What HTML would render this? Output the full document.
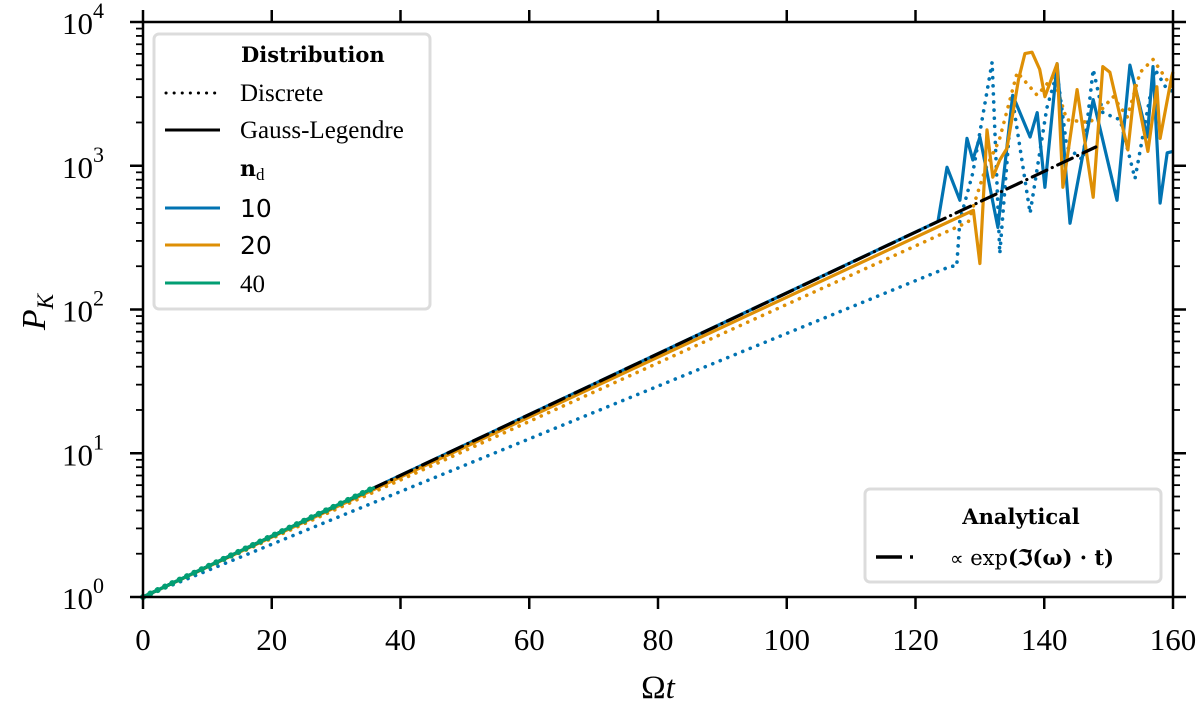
<!DOCTYPE html>
<html><head><meta charset="utf-8"><style>
html,body{margin:0;padding:0;background:#fff;}
svg{display:block;font-family:"Liberation Serif",serif;}
</style></head><body>
<svg id="chart" width="1200" height="708" viewBox="0 0 1200 708">
<g id="marks"></g>
<g id="axes"></g>
</svg>
<script>
// ---- data ----
const xTicks = [0,20,40,60,80,100,120,140,160];
const yDecades = [0,1,2,3,4];
const analyticT = [0,148];
const analyticV = [1,1350];
const green40T = [0,36];
const green40V = [1,5.8];
const blueSolidT = [0,123.5,124.9,126.9,128.0,128.9,130.0,132.8,135.1,137.8,138.9,140.1,142.0,144.0,147.6,151.3,153.3,156.0,156.9,158.0,159.1,160];
const blueSolidV = [1,410,977,575,1549,1096,1585,372,3090,1585,2344,708,5129,398,2884,575,5012,1585,4898,550,1230,1259];
const blueDotT = [0,125.5,126.4,126.9,128.9,131.9,133.1,135.0,137.8,140.4,142.0,143.5,146.0,147.6,149.1,151.8,154.1,157.2,159.1,160];
const blueDotV = [1,200,200,417,891,5248,245,3020,468,2512,4467,1349,1096,4677,2344,2089,813,4677,3388,3300];
const orangeSolidT = [0,129.0,130.0,131.1,132.0,133.1,134.2,136.0,137.0,138.1,139.3,140.1,142.0,142.9,145.1,147.6,149.1,150.2,153.0,154.1,156.1,157.5,158.0,159.8,160];
const orangeSolidV = [1,490,209,1778,832,1096,1318,3981,6026,6166,4677,3020,5129,708,3388,603,4898,4467,1288,3631,1259,3548,1549,4169,4500];
const orangeDotT = [0,128.2,130.8,133.0,135.8,138.9,141.4,143.5,147.1,150.7,152.9,154.9,156.9,159.0,160];
const orangeDotV = [1,407,933,1500,4467,3090,4169,2089,1995,3020,2188,4467,5495,3981,3500];

// ---- axes ----
const X0=143, X1=1173, Y0=597, Y1=22;
const xs = t => X0 + (t/160)*(X1-X0);
const ys = v => Y0 - (Math.log10(v)/4)*(Y0-Y1);
const NS='http://www.w3.org/2000/svg';
function mk(tag, attrs, parent){const e=document.createElementNS(NS,tag);for(const k in attrs)e.setAttribute(k,attrs[k]);parent.appendChild(e);return e;}
const marks=document.getElementById('marks'), axes=document.getElementById('axes');

function series(T,V,color,dash,w,name){
  const d=T.map((t,i)=>(i?'L':'M')+xs(t).toFixed(1)+','+ys(V[i]).toFixed(1)).join('');
  const p=mk('path',{d:d,fill:'none',stroke:color,'stroke-width':w,'stroke-dasharray':dash,'stroke-linecap':dash?'round':'butt','stroke-linejoin':'round'},marks);
  
  
}
const BL='#0173b2', OR='#de8f05', GR='#029e73';
series(blueDotT,blueDotV,BL,'0.1 8',3.6,'line-discrete-10');
series(orangeDotT,orangeDotV,OR,'0.1 8',3.6,'line-discrete-20');
series(blueSolidT,blueSolidV,BL,'',3.2,'line-gauss-10');
series(orangeSolidT,orangeSolidV,OR,'',3.2,'line-gauss-20');
series(analyticT,analyticV,'#000','16 6 0.1 6',3.2,'line-analytical');
series(green40T,green40V,GR,'',3.2,'line-gauss-40');
series(green40T,green40V,GR,'0.1 8',6,'line-discrete-40');

// frame
const fr=mk('rect',{x:X0,y:Y1,width:X1-X0,height:Y0-Y1,fill:'none',stroke:'#000','stroke-width':2.5},axes);


xTicks.forEach(t=>{
  const x=xs(t);
  mk('line',{x1:x,x2:x,y1:Y0,y2:Y0+12,stroke:'#000','stroke-width':2.5},axes);
  mk('line',{x1:x,x2:x,y1:Y1,y2:Y1-12,stroke:'#000','stroke-width':2.5},axes);
  const tx=mk('text',{x:x,y:650,'text-anchor':'middle','font-size':31},axes);
  tx.textContent=t;
  
  
});
yDecades.forEach(k=>{
  const y=ys(Math.pow(10,k));
  mk('line',{x1:X0-13,x2:X0,y1:y,y2:y,stroke:'#000','stroke-width':2.5},axes);
  mk('line',{x1:X1,x2:X1+13,y1:y,y2:y,stroke:'#000','stroke-width':2.5},axes);
  if(k<4){for(let m=2;m<=9;m++){const yy=ys(m*Math.pow(10,k));
    mk('line',{x1:X0-7,x2:X0,y1:yy,y2:yy,stroke:'#000','stroke-width':1.8},axes);
    mk('line',{x1:X1,x2:X1+7,y1:yy,y2:yy,stroke:'#000','stroke-width':1.8},axes);}}
  const tx=mk('text',{x:62,y:y+12,'font-size':31},axes);
  tx.innerHTML='10<tspan dy="-16" font-size="22">'+k+'</tspan>';
  
  
});
const xl=mk('text',{x:658,y:698,'text-anchor':'middle','font-size':33},axes);
xl.innerHTML='Ω<tspan font-style="italic">t</tspan>';


const yl=mk('text',{x:0,y:0,'font-size':34,'font-style':'italic',transform:'translate(45,312) rotate(-90)','text-anchor':'middle'},axes);
yl.innerHTML='P<tspan font-size="23" dy="8">K</tspan>';


</script>
<svg style="position:absolute;left:0;top:0" width="1200" height="708">
 <g font-family="Liberation Serif, serif">
  <rect x="154" y="34" width="276" height="275" rx="5" fill="#fff" stroke="#dcdcdc" stroke-width="3"/>
  <text x="241" y="62" font-size="21" font-weight="bold" font-family="DejaVu Serif, serif">Distribution</text>
  <line x1="166" y1="93" x2="220" y2="93" stroke="#000" stroke-width="3" stroke-dasharray="0.1 8" stroke-linecap="round"/>
  <text x="240" y="101" font-size="25">Discrete</text>
  <line x1="165" y1="130" x2="220" y2="130" stroke="#000" stroke-width="3"/>
  <text x="240" y="138" font-size="25">Gauss-Legendre</text>
  <text x="240" y="176" font-size="22" font-weight="bold" font-family="DejaVu Serif, serif">n<tspan font-size="17" font-weight="normal" font-family="Liberation Serif, serif" dy="4">d</tspan></text>
  <line x1="165" y1="208" x2="220" y2="208" stroke="#0173b2" stroke-width="3"/>
  <text x="240" y="217" font-size="25" font-family="DejaVu Sans, sans-serif">10</text>
  <line x1="165" y1="245" x2="220" y2="245" stroke="#de8f05" stroke-width="3"/>
  <text x="240" y="254" font-size="25" font-family="DejaVu Sans, sans-serif">20</text>
  <line x1="165" y1="283" x2="220" y2="283" stroke="#029e73" stroke-width="3"/>
  <text x="240" y="292" font-size="25">40</text>
 </g>
 <g font-family="DejaVu Serif, serif">
  <rect x="865" y="489" width="296" height="93" rx="5" fill="#fff" stroke="#dcdcdc" stroke-width="3"/>
  <text x="1021" y="524" font-size="21" font-weight="bold" text-anchor="middle">Analytical</text>
  <line x1="876" y1="557" x2="931" y2="557" stroke="#000" stroke-width="3.5" stroke-dasharray="26 8 3 50"/>
  <text x="950" y="565" font-size="21"><tspan font-family="DejaVu Sans, sans-serif" font-size="19">∝</tspan> exp<tspan font-weight="bold">(ℑ(ω) · t)</tspan></text>
 </g>
</svg>
</body></html>
